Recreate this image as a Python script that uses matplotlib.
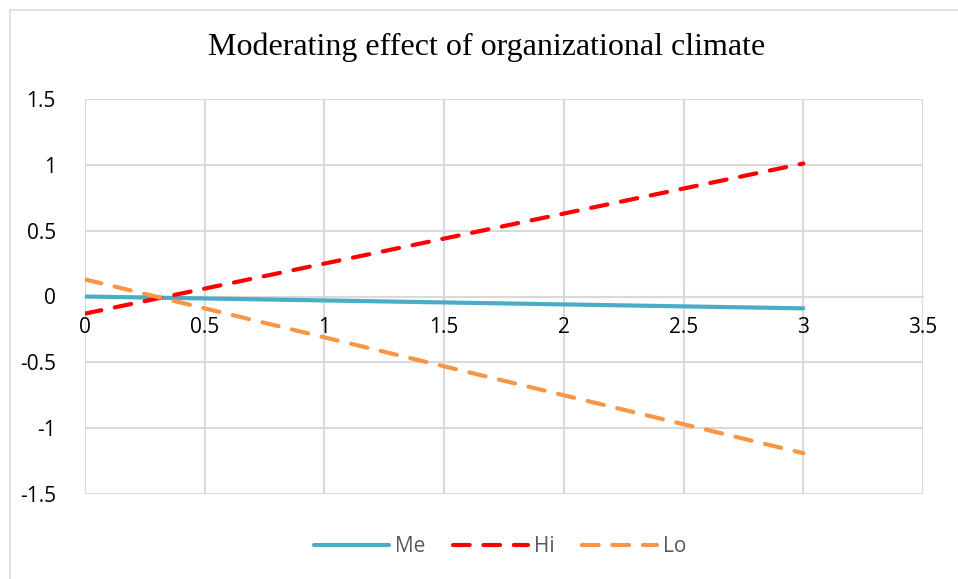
import matplotlib.pyplot as plt
from matplotlib.patches import Rectangle

# data (lines are drawn between the two end points)
x_vals = [0, 3]
me_vals = [0.0, -0.09]
hi_vals = [-0.13, 1.01]
lo_vals = [0.13, -1.19]

x_ticks = [0, 0.5, 1, 1.5, 2, 2.5, 3, 3.5]
y_ticks = [-1.5, -1, -0.5, 0, 0.5, 1, 1.5]

grid_col = "#d9d9d9"

fig = plt.figure(figsize=(9.58, 5.79), dpi=100)
fig.patches.append(Rectangle((10 / 958, -0.1), 1.1, 1.1 - 10 / 579, transform=fig.transFigure,
                             fill=False, edgecolor=grid_col, linewidth=1.2))

ax = fig.add_axes([85 / 958, 1 - 494 / 579, 838 / 958, 395 / 579])

ax.plot(x_vals, me_vals, color="#4BACC6", lw=3, solid_capstyle="round", label="Me", zorder=3)
ax.plot(x_vals, hi_vals, color="#FF0000", lw=3, dashes=(4, 3.3), dash_capstyle="round", label="Hi", zorder=3)
ax.plot(x_vals, lo_vals, color="#F79646", lw=3, dashes=(4, 3.3), dash_capstyle="round", label="Lo", zorder=3)

ax.set_xlim(0, 3.5)
ax.set_ylim(-1.5, 1.5)
ax.set_xticks(x_ticks)
ax.set_yticks(y_ticks)
ax.set_xticklabels([f"{t:g}" for t in x_ticks])
ax.set_yticklabels([f"{t:g}" for t in y_ticks])

ax.grid(True, color=grid_col, lw=1.5, zorder=0)
for s in ["top", "right", "left"]:
    ax.spines[s].set_visible(False)
ax.spines["bottom"].set_position(("data", 0))
ax.spines["bottom"].set_color(grid_col)
ax.spines["bottom"].set_linewidth(1.5)
ax.tick_params(length=0, labelsize=15, labelcolor="black")
ax.tick_params(axis="x", pad=15)
ax.tick_params(axis="y", pad=21)
for lbl in ax.get_xticklabels() + ax.get_yticklabels():
    lbl.set_family("Open Sans")

fig.text(0.5 + 8 / 958, 1 - 47 / 579, "Moderating effect of organizational climate",
         ha="center", va="center", fontsize=23, family="Liberation Serif")

fig.legend(loc="center", bbox_to_anchor=(500 / 958, 1 - 547 / 579), ncol=3, frameon=False,
           prop={"family": "Open Sans", "size": 15}, labelcolor="#595959",
           handlelength=3.6, columnspacing=1.3, handletextpad=0.3)

fig.savefig("out.png", dpi=100)
